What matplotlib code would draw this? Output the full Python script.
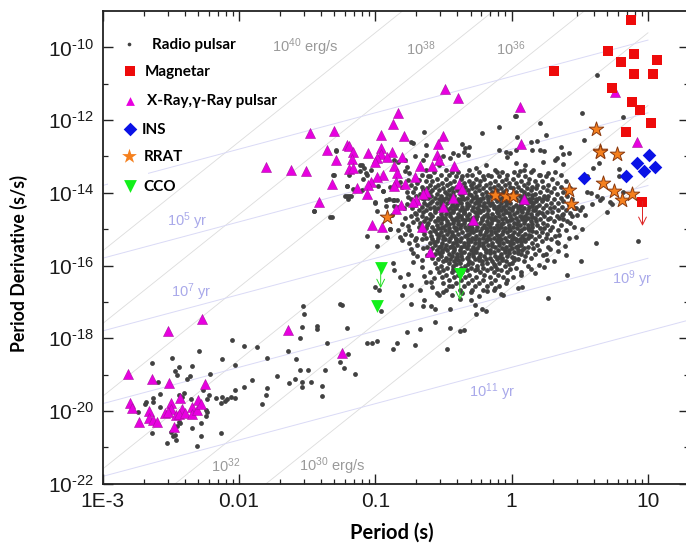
import numpy as np
import matplotlib
matplotlib.use('Agg')
from matplotlib import pyplot as plt
from matplotlib.patches import Rectangle
from matplotlib.ticker import FixedLocator, NullFormatter, FixedFormatter

# all values, as (log10 P, log10 Pdot)
radio_sparse = [
 (-2.64,-18.68),(-2.49,-18.53),(-2.29,-18.34),(-2.05,-18.04),(-1.96,-18.20),(-1.87,-18.25),(-2.12,-18.56),(-2.03,-18.73),
 (-1.79,-18.53),(-1.64,-18.36),(-1.58,-18.57),(-1.55,-18.88),(-1.49,-18.86),(-1.37,-18.86),(-1.35,-18.12),(-1.55,-18.0),
 (-1.54,-17.69),(-1.43,-17.65),(-1.43,-17.74),(-1.53,-17.12),(-1.52,-17.34),(-1.26,-17.05),(-1.24,-17.08),(-1.72,-19.05),
 (-1.90,-19.16),(-1.96,-19.34),(-2.03,-19.41),(-2.03,-19.63),(-2.06,-19.61),(-1.79,-19.38),(-1.80,-19.55),(-1.83,-19.82),
 (-1.63,-19.23),(-1.59,-19.13),(-1.54,-19.19),(-1.47,-19.19),(-1.54,-19.35),(-1.39,-19.30),(-1.39,-19.59),(-1.26,-18.64),
 (-1.23,-18.82),(-2.21,-18.97),(-2.34,-18.77),(-2.44,-18.79),(-2.47,-18.91),(-2.45,-19.02),(-2.36,-19.04),(-2.38,-19.12),
 (-2.59,-19.21),(-2.40,-19.50),(-2.58,-19.54),(-2.63,-19.63),(-2.63,-19.76),(-2.68,-19.76),(-2.69,-19.82),(-2.74,-20.03),
 (-2.58,-19.89),(-2.42,-19.62),(-2.44,-19.56),(-2.35,-19.67),(-2.26,-19.41),(-2.22,-19.56),(-2.23,-19.67),(-2.17,-19.65),
 (-2.13,-19.78),(-2.12,-19.62),(-2.09,-19.67),(-2.10,-19.73),(-2.24,-19.96),(-2.23,-20.02),(-2.24,-20.15),(-2.28,-20.34),
 (-2.34,-20.46),(-2.28,-20.69),(-2.13,-20.61),(-2.31,-20.96),(-2.46,-20.81),(-2.53,-20.87),(-2.50,-20.58),(-2.47,-20.66),
 (-2.48,-20.68),(-2.44,-20.29),(-2.43,-20.32),(-2.455,-20.40),(-2.64,-20.61),
 (-1.21,-17.72),(-1.15,-18.98),(-1.20,-18.43),(-1.06,-18.12),(-1.02,-18.13),(-0.99,-18.08),(-0.87,-18.30),(-0.84,-18.13),
 (-0.71,-18.19),(-0.77,-17.84),(-0.67,-17.74),(-0.56,-17.54),(-0.45,-17.72),(-0.38,-17.79),(-0.35,-17.76),(-0.47,-18.29),
 (0.27,-16.88),(0.41,-16.27),(0.08,-16.59),(0.05,-16.62),(-0.08,-16.78),(-0.06,-16.80),(-0.19,-17.26),(-0.22,-17.19),
 (-0.26,-17.33),(-0.30,-16.96),(-0.27,-17.08),(-0.24,-16.84),(-0.45,-17.19),(-0.56,-17.19),(-0.59,-17.10),(-0.64,-16.96),
 (-0.65,-17.12),(-0.74,-17.07),(-0.80,-16.82),(-0.67,-16.66),(-0.74,-16.53),(-0.79,-16.57),(-0.82,-16.32),(-0.76,-16.23),
 (-1.0,-16.59),(-0.97,-16.68),(-0.96,-17.26),(-0.63,-16.46),(-0.59,-16.44),(-0.50,-16.73),(-0.53,-16.8),(-0.46,-16.55),(-0.38,-16.91),
 (-1.45,-14.50),(-1.32,-14.66),(-1.30,-13.52),(-1.29,-12.84),
 (0.63,-10.77),(0.52,-11.81),(0.82,-11.92),(0.53,-12.56),(0.21,-12.07),(0.25,-12.40),(0.03,-11.90),(0.025,-11.88),(-0.095,-12.20),
 (-0.22,-12.36),(0.04,-12.46),(-0.64,-12.33),(-0.74,-12.59),(-0.72,-12.62),(-0.63,-12.68),(-0.36,-12.65),(-0.345,-12.77),
 (-0.31,-12.73),(-0.35,-12.89),(-0.32,-12.96),(-0.09,-12.82),(-0.04,-12.89),(-0.015,-12.91),(-0.03,-13.02),(0.03,-12.82),
 (0.14,-12.59),(0.19,-12.57),(0.205,-12.82),(0.24,-12.86),(0.15,-12.82),(0.365,-12.75),(0.38,-12.93),(0.42,-12.91),(0.32,-13.09),
 (0.33,-13.05),(0.38,-13.20),(0.23,-13.16),(0.27,-13.45),(0.32,-13.42),(0.21,-13.5),(0.16,-13.37),(0.09,-13.37),(0.06,-13.41),
 (0.10,-13.23),(0.03,-13.18),(0.55,-13.98),(0.59,-14.31),(0.70,-14.53),(0.62,-15.39),(0.93,-15.32),(0.52,-15.0),(0.47,-15.22),
 (0.51,-15.87),(0.40,-15.71),(0.31,-15.87),(0.26,-15.85),(0.63,-14.08),(0.665,-14.13),(0.645,-14.19),(0.72,-14.24),(0.74,-14.30),
 (0.79,-13.35),(0.55,-13.55),(0.60,-13.32),(0.64,-13.19),(0.82,-13.97),(0.52,-14.38),(0.50,-14.47),(0.44,-14.65),(0.43,-14.82),
 (0.43,-14.56),(0.47,-14.42),(0.79,-13.55),(0.58,-14.0),
 (-1.115,-13.23),(-1.07,-13.46),(-1.08,-13.32),(-1.21,-13.81),(-1.19,-14.10),(-1.21,-14.10),(-1.10,-13.92),(-1.0,-14.26),
 (-0.92,-14.19),(-0.86,-14.19),(-0.94,-13.94),(-0.89,-13.83),(-0.77,-13.98),(-0.83,-14.38),(-0.71,-14.56),(-0.74,-14.65),
 (-0.72,-14.79),(-0.755,-15.02),(-0.74,-15.16),(-0.71,-15.30),(-0.89,-15.0),(-0.91,-15.22),(-0.83,-15.02),(-0.82,-15.22),
 (-1.06,-15.18),(-0.99,-15.45),(-0.87,-15.94),(-0.86,-16.12),(-0.69,-15.75),(-0.65,-15.52),(-0.69,-15.43),(-0.70,-15.25),
 (-0.65,-13.09),(-0.63,-12.96),(-0.71,-13.0),(-0.785,-13.09),(-0.77,-13.28),(-0.75,-13.46),(-0.68,-13.64),(-0.63,-13.37),
 (-0.60,-13.55),(-0.50,-13.0),(-0.455,-13.05),(-0.39,-12.96),(-0.43,-12.91),(-0.53,-13.23),(-0.48,-13.37),(-0.31,-13.37),
 (-0.26,-13.32),(-0.19,-13.23),(-0.125,-13.37),
 (-1.29,-12.83),(-1.31,-13.52),(-1.45,-14.49),(-1.33,-14.66),(-1.10,-13.23),(-1.11,-13.41),(-1.09,-13.61),(-1.03,-13.37),
 (-1.06,-13.50),(-1.19,-13.52),(-1.21,-13.81),(-1.16,-13.90),(-1.22,-14.08),(-1.20,-14.16),(-1.18,-14.10),(-0.98,-13.82),
 (-0.94,-13.94),(-1.0,-14.27),(-0.90,-14.17),(-0.86,-14.36),(-0.92,-14.36),(-0.87,-14.19),(-0.985,-14.51),(-0.88,-14.60),
 (-0.86,-13.09),(-0.83,-13.14),(-0.78,-13.41),(-0.82,-13.69),(-0.76,-13.64),(-0.89,-15.0),
 # left rim and lower rim of the cloud
 (-0.80,-13.85),(-0.76,-14.12),(-0.84,-14.2),(-0.79,-14.42),(-0.77,-14.3),(-0.8,-14.85),(-0.78,-14.68),(-0.76,-14.92),
 (-0.78,-15.12),(-0.75,-15.38),(-0.8,-15.3),(-0.74,-15.55),(-0.72,-15.65),(-0.66,-15.85),(-0.62,-15.72),(-0.72,-15.9),
 (-0.66,-16.05),(-0.6,-16.18),(-0.64,-16.28),(-0.57,-16.35),(-0.58,-16.6),(-0.55,-16.75),(-0.44,-16.82),(-0.36,-16.76),
 (-0.3,-16.72),(-0.18,-16.7),(-0.12,-16.62),(-0.03,-16.4),(0.07,-16.25),(0.14,-16.1),(0.2,-15.98),(0.17,-16.2),(0.24,-16.05),
 (0.34,-15.6),(0.39,-15.45),(0.42,-15.25),(0.35,-15.15),(0.4,-15.02),(0.46,-14.95),(0.38,-14.72),(0.48,-14.62),(0.54,-14.6),
 (0.37,-14.62),(0.33,-15.35),(0.28,-15.55),(0.23,-15.72),
]

# the dense middle of the cloud, read row by row: log10 Pdot -> log10 P
radio_core = {
 -13.42:[-0.57,-0.44,-0.39,-0.24,-0.11,-0.07,0.02,0.14],
 -13.50:[-0.66,-0.52,-0.46,-0.33,-0.29,-0.17,-0.03,0.05,0.2,0.36],
 -13.55:[-0.61,-0.41,-0.36,-0.21,-0.15,-0.09,0.1,0.25],
 -13.61:[-0.7,-0.55,-0.48,-0.37,-0.26,-0.2,-0.04,0.01,0.13,0.3],
 -13.67:[-0.63,-0.58,-0.42,-0.31,-0.23,-0.12,-0.07,0.07,0.17,0.22,0.4],
 -13.72:[-0.69,-0.51,-0.45,-0.35,-0.28,-0.16,-0.02,0.03,0.12,0.33],
 -13.78:[-0.74,-0.6,-0.54,-0.47,-0.38,-0.3,-0.24,-0.19,-0.1,-0.05,0.09,0.19,0.27],
 -13.83:[-0.66,-0.56,-0.41,-0.34,-0.26,-0.13,-0.01,0.05,0.15,0.23,0.36],
 -13.88:[-0.71,-0.62,-0.5,-0.44,-0.37,-0.29,-0.21,-0.16,-0.08,0.01,0.11,0.18,0.31,0.43],
 -13.93:[-0.65,-0.58,-0.53,-0.46,-0.4,-0.32,-0.24,-0.11,-0.04,0.07,0.14,0.26],
 -13.98:[-0.72,-0.6,-0.49,-0.43,-0.35,-0.27,-0.19,-0.14,-0.06,0.03,0.09,0.21,0.29,0.38],
 -14.03:[-0.67,-0.63,-0.55,-0.47,-0.38,-0.31,-0.22,-0.09,0.0,0.12,0.17,0.33],
 -14.08:[-0.7,-0.59,-0.52,-0.42,-0.36,-0.26,-0.18,-0.15,0.06,0.24,0.27,0.41],
 -14.13:[-0.66,-0.61,-0.56,-0.48,-0.44,-0.33,-0.28,-0.21,-0.12,-0.07,-0.01,0.1,0.15,0.2,0.36],
 -14.18:[-0.74,-0.64,-0.53,-0.46,-0.39,-0.35,-0.25,-0.17,-0.03,0.03,0.08,0.13,0.26,0.31,0.44],
 -14.23:[-0.69,-0.58,-0.5,-0.42,-0.3,-0.23,-0.11,-0.05,0.06,0.18,0.22,0.38],
 -14.28:[-0.64,-0.6,-0.55,-0.47,-0.37,-0.33,-0.27,-0.2,-0.14,-0.08,-0.01,0.11,0.16,0.29,0.34],
 -14.33:[-0.71,-0.62,-0.52,-0.44,-0.4,-0.31,-0.24,-0.16,-0.04,0.03,0.07,0.2,0.25,0.42],
 -14.38:[-0.66,-0.57,-0.49,-0.36,-0.28,-0.19,-0.1,-0.06,0.01,0.13,0.18,0.31,0.37],
 -14.43:[-0.73,-0.6,-0.54,-0.45,-0.41,-0.33,-0.25,-0.13,-0.02,0.05,0.09,0.23,0.28,0.46],
 -14.48:[-0.68,-0.63,-0.51,-0.47,-0.38,-0.29,-0.21,-0.17,-0.08,0.0,0.12,0.16,0.34,0.4],
 -14.53:[-0.65,-0.56,-0.43,-0.35,-0.27,-0.23,-0.11,-0.04,0.04,0.08,0.2,0.26,0.3],
 -14.58:[-0.7,-0.6,-0.52,-0.48,-0.39,-0.31,-0.18,-0.14,-0.06,0.02,0.14,0.19,0.38],
 -14.63:[-0.66,-0.58,-0.45,-0.37,-0.33,-0.25,-0.2,-0.09,-0.01,0.06,0.1,0.24,0.33],
 -14.68:[-0.63,-0.54,-0.49,-0.41,-0.29,-0.22,-0.15,-0.05,0.03,0.12,0.17,0.28,0.35],
 -14.73:[-0.69,-0.6,-0.51,-0.44,-0.36,-0.32,-0.26,-0.12,-0.07,0.0,0.08,0.21,0.27],
 -14.78:[-0.64,-0.56,-0.47,-0.39,-0.3,-0.18,-0.1,-0.03,0.05,0.14,0.18,0.31,0.41],
 -14.83:[-0.67,-0.61,-0.52,-0.43,-0.35,-0.27,-0.23,-0.15,-0.06,0.02,0.09,0.23],
 -14.88:[-0.62,-0.55,-0.48,-0.37,-0.31,-0.2,-0.11,-0.02,0.06,0.12,0.19,0.26,0.36],
 -14.93:[-0.68,-0.58,-0.5,-0.42,-0.34,-0.25,-0.16,-0.08,0.01,0.15,0.3],
 -14.98:[-0.63,-0.54,-0.46,-0.38,-0.29,-0.22,-0.13,-0.05,0.04,0.09,0.21,0.24],
 -15.03:[-0.66,-0.57,-0.49,-0.41,-0.33,-0.26,-0.18,-0.1,-0.01,0.07,0.13,0.28,0.34],
 -15.08:[-0.6,-0.52,-0.44,-0.36,-0.28,-0.19,-0.12,-0.03,0.02,0.18,0.22],
 -15.13:[-0.64,-0.55,-0.47,-0.39,-0.31,-0.23,-0.15,-0.07,0.05,0.1,0.26],
 -15.18:[-0.59,-0.5,-0.42,-0.34,-0.26,-0.17,-0.09,-0.02,0.08,0.14,0.2,0.32],
 -15.23:[-0.63,-0.54,-0.45,-0.37,-0.29,-0.21,-0.13,-0.05,0.02,0.12,0.25],
 -15.28:[-0.66,-0.58,-0.49,-0.41,-0.32,-0.24,-0.16,-0.08,0.0,0.06,0.17,0.29],
 -15.33:[-0.55,-0.46,-0.38,-0.3,-0.19,-0.11,-0.03,0.04,0.1,0.22],
 -15.38:[-0.6,-0.51,-0.43,-0.35,-0.27,-0.21,-0.14,-0.06,0.01,0.15,0.34],
 -15.43:[-0.56,-0.48,-0.4,-0.32,-0.24,-0.17,-0.09,-0.01,0.07,0.19],
 -15.48:[-0.62,-0.53,-0.45,-0.37,-0.28,-0.12,-0.04,0.03,0.12,0.27],
 -15.53:[-0.58,-0.49,-0.42,-0.33,-0.25,-0.2,-0.07,0.0,0.09,0.16],
 -15.58:[-0.55,-0.47,-0.38,-0.3,-0.16,-0.1,-0.02,0.05,0.2],
 -15.63:[-0.6,-0.51,-0.43,-0.35,-0.26,-0.19,-0.13,-0.05,0.02,0.11],
 -15.68:[-0.56,-0.46,-0.4,-0.31,-0.23,-0.08,0.07,0.17,0.25],
 -15.73:[-0.52,-0.44,-0.37,-0.28,-0.2,-0.12,-0.03,0.1],
 -15.78:[-0.58,-0.48,-0.41,-0.33,-0.24,-0.16,-0.07,0.02,0.14],
 -15.83:[-0.54,-0.45,-0.36,-0.27,-0.19,-0.11,0.05],
 -15.88:[-0.5,-0.42,-0.31,-0.22,-0.14,-0.04,0.09],
 -15.94:[-0.56,-0.46,-0.38,-0.29,-0.18,-0.09,0.0],
 -16.00:[-0.52,-0.43,-0.34,-0.25,-0.12,-0.05,0.12],
 -16.06:[-0.55,-0.47,-0.37,-0.3,-0.21,-0.15,0.03],
 -16.12:[-0.5,-0.41,-0.33,-0.27,-0.18,-0.08],
 -16.18:[-0.53,-0.44,-0.36,-0.23,-0.13,-0.03,0.07],
 -16.25:[-0.48,-0.39,-0.31,-0.2,-0.1],
 -16.32:[-0.51,-0.42,-0.34,-0.26,-0.16,-0.06,0.01],
 -16.40:[-0.46,-0.37,-0.29,-0.21,-0.12],
 -16.48:[-0.5,-0.41,-0.32,-0.24,-0.15,-0.04],
 -16.56:[-0.44,-0.35,-0.27,-0.18,-0.09],
 -16.66:[-0.48,-0.38,-0.29,-0.21,-0.13],
 # second pass through the solid part
 -14.06:[-0.45,-0.3,-0.12,-0.03,0.09,0.15],
 -14.16:[-0.5,-0.37,-0.23,-0.09,0.18,0.23],
 -14.26:[-0.52,-0.39,-0.25,-0.17,-0.03,0.09,0.14],
 -14.36:[-0.42,-0.33,-0.21,-0.13,-0.09,0.06,0.15],
 -14.46:[-0.56,-0.43,-0.35,-0.24,-0.11,-0.05,0.07,0.17],
 -14.56:[-0.45,-0.35,-0.25,-0.1,-0.02,0.11,0.22],
 -14.66:[-0.51,-0.39,-0.27,-0.17,-0.12,0.08,0.15],
 -14.76:[-0.54,-0.42,-0.34,-0.22,-0.14,-0.01,0.1],
 -14.86:[-0.46,-0.39,-0.29,-0.17,-0.08,0.04,0.15],
 -14.96:[-0.52,-0.41,-0.31,-0.19,-0.1,-0.02,0.12],
 -15.06:[-0.56,-0.46,-0.3,-0.23,-0.15,-0.06,0.06,0.15],
 -15.16:[-0.53,-0.44,-0.33,-0.2,-0.11,0.0,0.13],
 -15.26:[-0.5,-0.41,-0.27,-0.18,-0.1,0.03,0.09],
 -15.36:[-0.57,-0.41,-0.32,-0.24,-0.09,-0.01,0.07],
 -15.46:[-0.52,-0.44,-0.35,-0.21,-0.14,0.05],
 -15.56:[-0.51,-0.42,-0.27,-0.19,-0.05,0.08],
 -15.66:[-0.53,-0.37,-0.28,-0.16,-0.02,0.05],
 -15.76:[-0.4,-0.32,-0.24,-0.09,0.0],
 -15.86:[-0.48,-0.39,-0.24,-0.07,0.02],
 -15.97:[-0.41,-0.32,-0.22,-0.13,-0.02],
 -16.09:[-0.43,-0.25,-0.11,-0.01],
}

xray_pts = [
 (-2.27,-17.48),(-2.52,-17.79),(-1.64,-17.77),(-2.81,-18.98),(-2.64,-19.12),(-2.51,-19.24),(-2.245,-19.25),(-1.24,-18.40),
 (-2.80,-19.79),(-2.78,-19.92),(-2.73,-20.31),(-2.66,-20.01),(-2.66,-20.19),(-2.63,-20.26),(-2.60,-20.31),(-2.54,-20.06),
 (-2.50,-19.78),(-2.50,-19.94),(-2.516,-20.03),(-2.435,-19.65),(-2.46,-20.11),(-2.475,-20.45),(-2.42,-19.94),(-2.44,-20.08),
 (-2.395,-20.05),(-2.345,-19.90),(-2.34,-20.07),(-2.31,-19.96),(-2.30,-19.71),(-2.28,-19.80),
 (-1.48,-12.36),(-1.30,-12.31),(-1.355,-12.82),(-1.29,-13.10),(-1.80,-13.29),(-1.62,-13.36),(-1.51,-13.41),(-1.32,-13.75),(-1.41,-14.24),
 (-0.49,-11.15),(-0.39,-11.40),(0.06,-11.64),(-0.83,-11.81),(-0.87,-12.12),(-0.96,-12.41),(-0.79,-12.44),(-0.50,-12.44),(-0.54,-12.66),
 (0.07,-12.67),(-1.21,-12.69),(-1.19,-12.70),(-1.16,-12.87),(-1.05,-12.90),(-0.96,-12.77),(-0.88,-12.87),(-0.96,-12.93),(-0.99,-13.05),
 (-1.0,-13.14),(-0.91,-13.02),(-0.80,-13.01),(-1.17,-13.08),(-0.545,-12.97),(-0.53,-13.11),(-0.58,-13.26),(-0.67,-13.27),(-0.865,-13.25),
 (-0.42,-13.26),(-1.19,-13.35),(-1.16,-13.31),(-0.84,-13.46),(-0.94,-13.52),(-0.99,-13.57),(-1.03,-13.69),(-1.05,-13.78),(-0.71,-13.56),
 (-0.85,-13.69),(-0.86,-13.81),(-0.785,-13.76),(-1.135,-13.88),(-1.06,-14.04),(-0.63,-13.97),(-0.65,-14.03),(-0.386,-13.76),(-0.36,-13.90),
 (-0.43,-14.15),(-0.70,-14.19),(-0.72,-14.25),(-0.81,-14.34),(-0.85,-14.44),(-0.50,-14.40),(-0.28,-14.76),(-0.655,-14.95),(-1.02,-14.89),
 (-0.95,-14.93),(-0.60,-15.64),(0.09,-14.16),(0.755,-11.24),(0.92,-12.60),
]
magnetar_pts = [(0.875,-9.24),(0.71,-10.11),(0.90,-10.19),(0.805,-10.41),(1.07,-10.35),(0.90,-10.73),(1.04,-10.72),(0.31,-10.64),
 (0.74,-11.12),(0.88,-11.49),(0.94,-11.72),(1.02,-12.07),(0.84,-12.34),(0.96,-14.24)]
ins_pts = [(0.53,-13.60),(0.84,-13.55),(0.92,-13.18),(0.97,-13.41),(1.01,-12.97),(1.05,-13.28)]
rrat_pts = [(0.62,-12.25),(0.65,-12.84),(0.65,-12.87),(0.77,-12.94),(0.42,-13.93),(0.435,-14.31),(0.67,-13.74),(0.75,-13.95),
 (0.81,-14.21),(0.88,-14.03),(-0.12,-14.07),(-0.04,-14.08),(0.01,-14.08),(-0.91,-14.66)]
cco_pts = [(-0.96,-16.07),(-0.38,-16.24),(-0.99,-17.11)]
# upper limits: x, start, end
limits = [(-0.96,-16.07,-16.62,'#22dd22'),(-0.38,-16.24,-16.95,'#22dd22'),(0.96,-14.24,-14.91,'#dd2222')]

# guide lines, log10 Pdot where they cross P = 1 ms
edot_at_1ms = [-15.6,-17.6,-19.6,-21.6,-23.6,-25.6]
age_at_1ms = [-13.8,-15.8,-17.8,-19.8,-21.8]

xticks = [1e-3,0.01,0.1,1,10]
xticklabels = ['1E-3','0.01','0.1','1','10']
yticks = [1e-22,1e-20,1e-18,1e-16,1e-14,1e-12,1e-10]
yticklabels = [r'$\mathregular{10^{\text{-}%d}}$' % n for n in [22,20,18,16,14,12,10]]

plt.rcParams['font.family'] = ['Liberation Sans','DejaVu Sans']
plt.rcParams['mathtext.fontset'] = 'custom'
plt.rcParams['mathtext.rm'] = 'Liberation Sans'
plt.rcParams['mathtext.default'] = 'regular'

W, H = 686., 543.
fig = plt.figure(figsize=(W/100,H/100),dpi=100)
ax = fig.add_axes([102.5/W,(H-483.7)/H,586.5/W,472.7/H])
ax.set_xscale('log') ; ax.set_yscale('log')
ax.set_xlim(1e-3,20) ; ax.set_ylim(1e-22,1e-9)

def fx(x): return x/W
def fy(y): return 1-y/H

# guide lines, gray for spin-down luminosity, blue for age
logp = np.array([-3.,1.])
for b in edot_at_1ms:
    ax.plot(10**logp,10**(b+3*(logp+3)),color='#dcdcdc',lw=0.6,zorder=1)
for k,b in enumerate(age_at_1ms):
    lp = logp if k < 4 else np.array([-3.,1.4])
    ax.plot(10**lp,10**(b+(lp+3)),color='#dadaf6',lw=0.7,zorder=1)

# white patch behind the legend hides the start of the top age line
ax.add_patch(Rectangle((fx(108),fy(195)),fx(40),175/H,transform=fig.transFigure,fc='white',ec='none',zorder=1.5))

core_x = [x for y in radio_core for x in radio_core[y]]
core_y = [y for y in radio_core for x in radio_core[y]]
sp = np.array(radio_sparse)
ax.scatter(10**np.concatenate([sp[:,0],core_x]),10**np.concatenate([sp[:,1],core_y]),s=12,c='#414141',linewidths=0,zorder=3)

tri = np.array(xray_pts)
ax.scatter(10**tri[:,0],10**tri[:,1],marker='^',s=52,c='#e800e0',edgecolors='#a8109f',linewidths=0.4,zorder=4)
mag = np.array(magnetar_pts)
ax.scatter(10**mag[:,0],10**mag[:,1],marker='s',s=45,c='#ee0b0b',linewidths=0,zorder=5)
ins = np.array(ins_pts)
ax.scatter(10**ins[:,0],10**ins[:,1],marker='D',s=48,c='#0a12e6',linewidths=0,zorder=5)
rr = np.array(rrat_pts)
ax.scatter(10**rr[:,0],10**rr[:,1],marker='*',s=120,c='#f5801e',edgecolors='#8a3a10',linewidths=0.7,zorder=6)
cc = np.array(cco_pts)
ax.scatter(10**cc[:,0],10**cc[:,1],marker='v',s=85,c='#12f01a',linewidths=0,zorder=6)
for x,y0,y1,col in limits:
    ax.annotate('',xy=(10**x,10**y1),xytext=(10**x,10**y0),zorder=6,
                arrowprops=dict(arrowstyle='->',color=col,lw=0.7,mutation_scale=14,shrinkA=0,shrinkB=0))

# axes
ax.xaxis.set_major_locator(FixedLocator(xticks))
ax.xaxis.set_major_formatter(FixedFormatter(xticklabels))
ax.xaxis.set_minor_locator(matplotlib.ticker.LogLocator(base=10,subs=np.arange(2,10),numticks=12))
ax.xaxis.set_minor_formatter(NullFormatter())
ax.yaxis.set_major_locator(FixedLocator(yticks))
ax.yaxis.set_major_formatter(FixedFormatter(yticklabels))
ax.yaxis.set_minor_locator(FixedLocator([10.**n for n in range(-21,-9,2)]))
ax.yaxis.set_minor_formatter(NullFormatter())
ax.tick_params(which='both',direction='in',top=True,right=True,color='#222222')
ax.tick_params(which='major',length=7,width=1.0,labelsize=15,pad=6,labelcolor='#1a1a1a')
ax.tick_params(which='minor',length=3.8,width=0.9)
for s in ax.spines.values():
    s.set_linewidth(1.3) ; s.set_color('#222222')

bold = dict(family=['Lato','DejaVu Sans'],fontweight='bold',color='black')
fig.text(fx(392),fy(533),'Period (s)',fontsize=14.5,ha='center',va='center',**bold)
fig.text(fx(19),fy(263),'Period Derivative (s/s)',fontsize=12.8,rotation=90,ha='center',va='center',**bold)

# legend, placed by hand
entries = [('Radio pulsar',129,44,152,45,'o',7,'#414141'),
           ('Magnetar',130,71,145,72,'s',45,'#ee0b0b'),
           ('X-Ray,\u03b3-Ray pulsar',130,101,147,101,'^',40,'#e800e0'),
           ('INS',130,129,142,130,'D',48,'#0a12e6'),
           ('RRAT',129,156,144,157,'*',125,'#f5801e'),
           ('CCO',130,186,143,187,'v',85,'#12f01a')]
for name,mx,my,tx,ty,mk,sz,col in entries:
    ax.scatter([fx(mx)],[fy(my)],marker=mk,s=sz,c=col,linewidths=0,transform=fig.transFigure,zorder=7)
    fig.text(fx(tx),fy(ty),name,fontsize=11,ha='left',va='center',**bold)

# line labels
gray = '#9a9a9a' ; blue = '#a9a9ea'
labels = [(272,47,r'$10^{40}$ erg/s',gray),(406,49,r'$10^{38}$',gray),(496,49,r'$10^{36}$',gray),
          (211,466,r'$10^{32}$',gray),(299,466,r'$10^{30}$ erg/s',gray),
          (167,221,r'$10^{5}$ yr',blue),(171,292,r'$10^{7}$ yr',blue),(612,279,r'$10^{9}$ yr',blue),(469,392,r'$10^{11}$ yr',blue)]
for x,y,t,col in labels:
    fig.text(fx(x),fy(y),t,fontsize=10.5,color=col,ha='left',va='center')

fig.savefig('out.png',dpi=100)
